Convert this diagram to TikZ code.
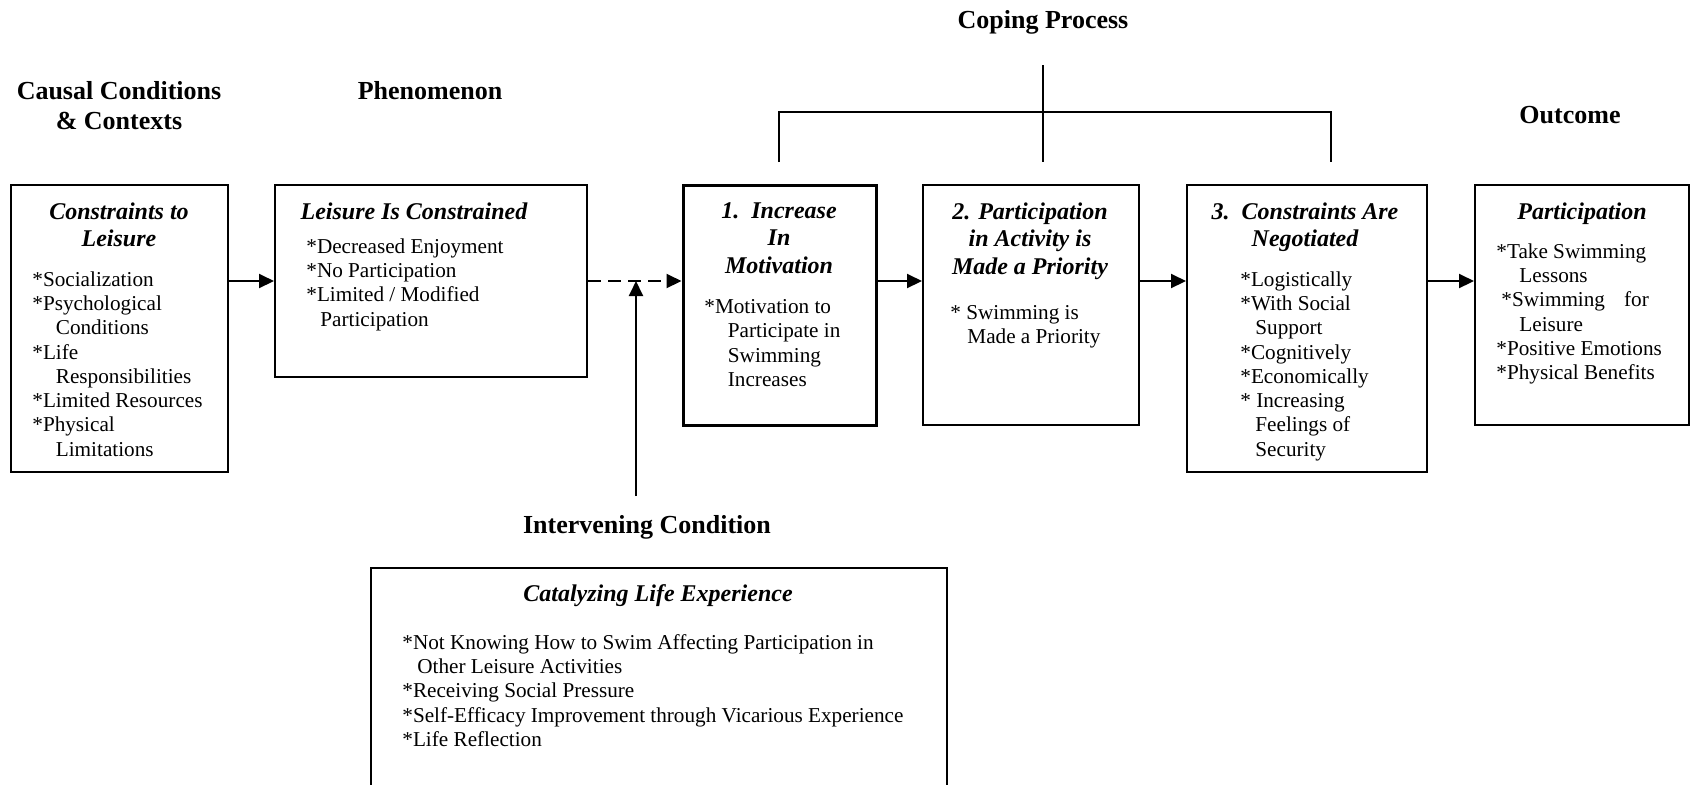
\documentclass[tikz,border=0pt]{standalone}
\usepackage{fontspec}
\setmainfont{Liberation Serif}
\usetikzlibrary{arrows.meta}
\begin{document}
\begin{tikzpicture}[x=0.5pt,y=-0.5pt,
  box/.style={draw, line width=1pt, inner sep=0pt},
  thickbox/.style={draw, line width=1.5pt, inner sep=0pt},
  head/.style={font=\fontsize{13}{15}\selectfont\bfseries, align=center, inner sep=0pt},
  ttl/.style={font=\fontsize{12}{13.75}\selectfont\bfseries\itshape, align=center, anchor=north, inner sep=0pt},
  body/.style={font=\fontsize{10.6}{12.15}\selectfont, align=left, anchor=north west, inner sep=0pt},
  arr/.style={line width=1pt, -{Triangle[length=7.5pt,width=7pt]}},
  conn/.style={line width=1pt},
]
\useasboundingbox (0,0) rectangle (1691,784);
\clip (0,0) rectangle (1691,784);

% headers
\node[head] (hcausal) at (119,106) {Causal Conditions\\\& Contexts};
\node[head] (hphen) at (430,91) {Phenomenon};
\node[head] (hcoping) at (1043,22) {Coping Process};
\node[head] (hout) at (1570,115) {Outcome};
\node[head] (hint) at (647,527) {Intervening Condition};

% boxes
\node[box, minimum width=108.5pt, minimum height=143.5pt] (A) at (119.5,328.5) {};
\node[box, minimum width=156pt, minimum height=96pt] (B) at (431,281) {};
\node[thickbox, minimum width=96.5pt, minimum height=120pt] (C) at (779.5,305) {};
\node[box, minimum width=108pt, minimum height=120pt] (D) at (1031,305) {};
\node[box, minimum width=120pt, minimum height=143.5pt] (E) at (1307,328.5) {};
\node[box, minimum width=107pt, minimum height=120pt] (F) at (1582,305) {};
\node[box, minimum width=288pt, minimum height=116pt] (G) at (659,684) {};

% titles
\node[ttl] (At) at (119,202) {Constraints to\\Leisure};
\node[ttl] (Bt) at (414,202) {Leisure Is Constrained};
\node[ttl] (Ct) at (779,202) {1.\ \ Increase\\In\\Motivation};
\node[ttl] (Dt) at (1030,202) {2. Participation\\in Activity is\\Made a Priority};
\node[ttl] (Et) at (1305,202) {3.\ \ Constraints Are\\Negotiated};
\node[ttl] (Ft) at (1582,202) {Participation};
\node[ttl] (Gt) at (658,584) {Catalyzing Life Experience};

% bodies
\node[body] (Ab) at (32,271) {*Socialization\\*Psychological\\\hspace*{11.75pt}Conditions\\*Life\\\hspace*{11.75pt}Responsibilities\\*Limited Resources\\*Physical\\\hspace*{11.75pt}Limitations};
\node[body] (Bb) at (306,238) {*Decreased Enjoyment\\*No Participation\\*Limited / Modified\\\hspace*{7pt}Participation};
\node[body] (Cb) at (704,299) {*Motivation to\\\hspace*{11.75pt}Participate in\\\hspace*{11.75pt}Swimming\\\hspace*{11.75pt}Increases};
\node[body] (Db) at (950,305) {* Swimming is\\\hspace*{8.5pt}Made a Priority};
\node[body] (Eb) at (1240,271) {*Logistically\\*With Social\\\hspace*{7.5pt}Support\\*Cognitively\\*Economically\\* Increasing\\\hspace*{7.5pt}Feelings of\\\hspace*{7.5pt}Security};
\node[body] (Fb) at (1496,243) {*Take Swimming\\\hspace*{11.5pt}Lessons\\\hspace*{2.5pt}*Swimming\hspace*{0.9em}for\\\hspace*{11.5pt}Leisure\\*Positive Emotions\\*Physical Benefits};
\node[body] (Gb) at (402,634) {*Not Knowing How to Swim Affecting Participation in\\\hspace*{7.5pt}Other Leisure Activities\\*Receiving Social Pressure\\*Self-Efficacy Improvement through Vicarious Experience\\*Life Reflection};

% main flow connectors
\draw[arr] (B.west -| A.east) -- (B.west);
\draw[arr, dash pattern=on 6.5pt off 3.5pt] (B.east) -- (B.east -| C.west);
\draw[arr] (C.east |- B.east) -- (D.west |- B.east);
\draw[arr] (D.east |- B.east) -- (E.west |- B.east);
\draw[arr] (E.east |- B.east) -- (F.west |- B.east);

% intervening arrow
\coordinate (vs) at (636,496);
\draw[arr] (vs) -- (vs |- B.east);

% coping bracket
\coordinate (ctop) at (1043,65);
\coordinate (cbot) at (1043,162);
\coordinate (cl) at (779,112);
\coordinate (cr) at (1331,112);
\draw[conn] (ctop) -- (cbot);
\draw[conn] (cl |- cbot) -- (cl) -- (cr) -- (cr |- cbot);
\end{tikzpicture}
\end{document}
